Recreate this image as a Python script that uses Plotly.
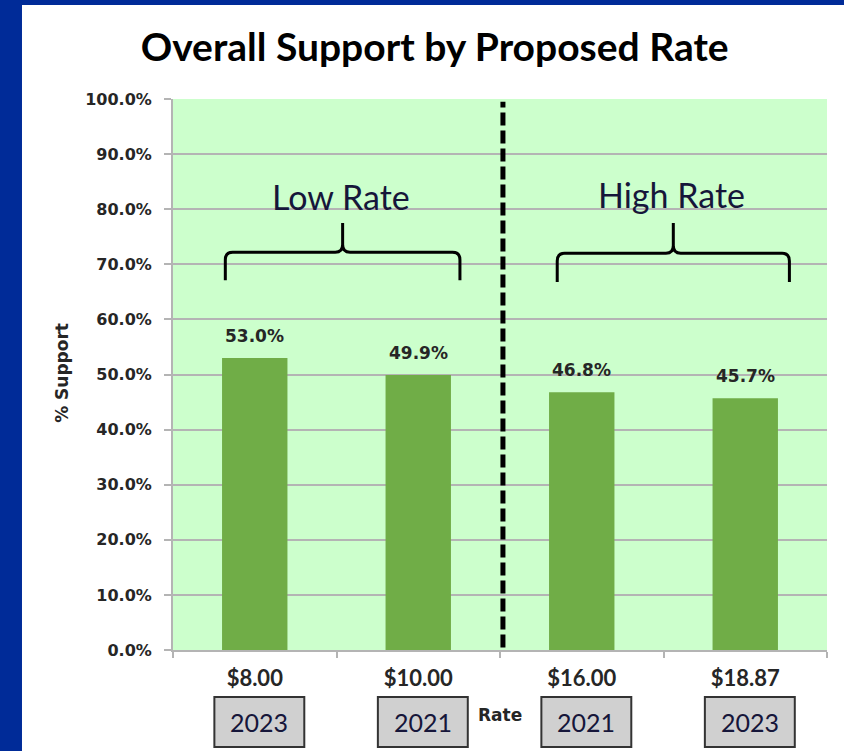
import plotly.graph_objects as go

# ---- data ----
rates = ["$8.00", "$10.00", "$16.00", "$18.87"]
support = [53.0, 49.9, 46.8, 45.7]
years = ["2023", "2021", "2021", "2023"]
y_ticks = [0, 10, 20, 30, 40, 50, 60, 70, 80, 90, 100]
group_labels = ["Low Rate", "High Rate"]

BAR = "#70ad47"
PLOTBG = "#ccffcc"
BLUE = "#002b98"
GRID = "#b4b4b4"
TXT = "#262626"
NAVY = "#16163a"

x_idx = list(range(len(rates)))

fig = go.Figure()
fig.add_trace(go.Bar(
    x=x_idx, y=support, marker=dict(color=BAR, line=dict(width=0)),
    width=0.4, hoverinfo="skip", showlegend=False,
))

annotations = []
# data labels
for i, v in enumerate(support):
    annotations.append(dict(
        x=i, y=v, xref="x", yref="y", text=f"{v:.1f}%", showarrow=False,
        yanchor="bottom", yshift=10,
        font=dict(family="DejaVu Sans", size=17, color=TXT, weight="bold"),
    ))

shapes = []
# year boxes + text
for i, yr in enumerate(years):
    shapes.append(dict(
        type="rect", xref="x", yref="paper",
        x0=i - 0.247, x1=i + 0.303, y0=-0.176, y1=-0.0853,
        fillcolor="#d0d0d0", line=dict(color="#333333", width=2), layer="above",
    ))
    annotations.append(dict(
        x=i + 0.028, y=-0.1306, xref="x", yref="paper", text=yr, showarrow=False,
        yanchor="middle", xanchor="center",
        font=dict(family="Lato", size=25, color=NAVY),
    ))

# braces
def brace(x0, x1, yt, yh, yp):
    xc = (x0 + x1) / 2
    rx, ry = 0.045, 1.4
    return (f"M {x0},{yt} L {x0},{yh - ry} Q {x0},{yh} {x0 + rx},{yh} "
            f"L {xc - rx},{yh} Q {xc},{yh} {xc},{yh + ry} L {xc},{yp} "
            f"L {xc},{yh + ry} Q {xc},{yh} {xc + rx},{yh} "
            f"L {x1 - rx},{yh} Q {x1},{yh} {x1},{yh - ry} L {x1},{yt}")

shapes.append(dict(type="path", xref="x", yref="y",
                   path=brace(-0.18, 1.255, 67.1, 72.2, 77.5),
                   line=dict(color="black", width=3)))
shapes.append(dict(type="path", xref="x", yref="y",
                   path=brace(1.85, 3.27, 66.8, 72.0, 77.5),
                   line=dict(color="black", width=3)))

annotations.append(dict(x=0.53, y=82.3, xref="x", yref="y", text=group_labels[0],
                        showarrow=False, yanchor="middle",
                        font=dict(family="Lato", size=34, color=NAVY)))
annotations.append(dict(x=2.55, y=82.6, xref="x", yref="y", text=group_labels[1],
                        showarrow=False, yanchor="middle",
                        font=dict(family="Lato", size=34, color=NAVY)))

# dashed divider
shapes.append(dict(type="line", xref="x", yref="y", x0=1.518, x1=1.518, y0=-2.8, y1=99.5,
                   line=dict(color="black", width=5, dash="13px,5px")))

# blue frame
shapes.append(dict(type="rect", xref="paper", yref="paper",
                   x0=-0.27, x1=-0.2309, y0=-0.2, y1=1.2,
                   fillcolor=BLUE, line=dict(width=0), layer="above"))
shapes.append(dict(type="rect", xref="paper", yref="paper",
                   x0=-0.27, x1=1.04, y0=1.1706, y1=1.2,
                   fillcolor=BLUE, line=dict(width=0), layer="above"))

# axis titles
annotations.append(dict(x=-0.1697, y=0.503, xref="paper", yref="paper", text="% Support",
                        textangle=-90, showarrow=False, xanchor="center", yanchor="middle",
                        font=dict(family="DejaVu Sans", size=17, color=TXT, weight="bold")))
annotations.append(dict(x=1.5, y=-0.118, xref="x", yref="paper", text="Rate",
                        showarrow=False, xanchor="center", yanchor="middle",
                        font=dict(family="DejaVu Sans", size=17, color=TXT, weight="bold")))

fig.update_layout(
    width=844, height=751,
    margin=dict(l=173, r=17, t=99, b=101),
    paper_bgcolor="white", plot_bgcolor=PLOTBG,
    title=dict(text="Overall Support by Proposed Rate", xref="container", yref="container",
               x=0.515, y=1 - 47 / 751, xanchor="center", yanchor="middle",
               font=dict(family="Lato", size=39, color="black", weight="bold")),
    bargap=0.6,
    shapes=shapes, annotations=annotations,
)
fig.update_xaxes(
    range=[-0.5, 3.5], tickmode="array", tickvals=x_idx, ticktext=rates,
    ticks="", showgrid=False, zeroline=False,
    showline=True, linecolor=GRID, linewidth=2,
    minor=dict(tickmode="array", tickvals=[-0.5, 0.5, 1.5, 2.5, 3.5], ticks="outside",
               ticklen=6, tickcolor=GRID, tickwidth=2, showgrid=False),
    tickfont=dict(family="Lato", size=22, color=TXT, weight="bold"),
    ticklabelstandoff=8,
)
fig.update_yaxes(
    range=[0, 100], tickmode="array", tickvals=y_ticks,
    ticktext=[f"{t:.1f}%" for t in y_ticks],
    ticks="outside", ticklen=7, tickcolor=GRID, tickwidth=2,
    showgrid=True, gridcolor=GRID, gridwidth=2, zeroline=False,
    showline=True, linecolor=GRID, linewidth=2,
    tickfont=dict(family="DejaVu Sans", size=16, color=TXT, weight="bold"),
    ticklabelstandoff=9,
)

fig.write_html("out.html", config={"displayModeBar": False},
               post_script="document.body.style.margin='0px';")
